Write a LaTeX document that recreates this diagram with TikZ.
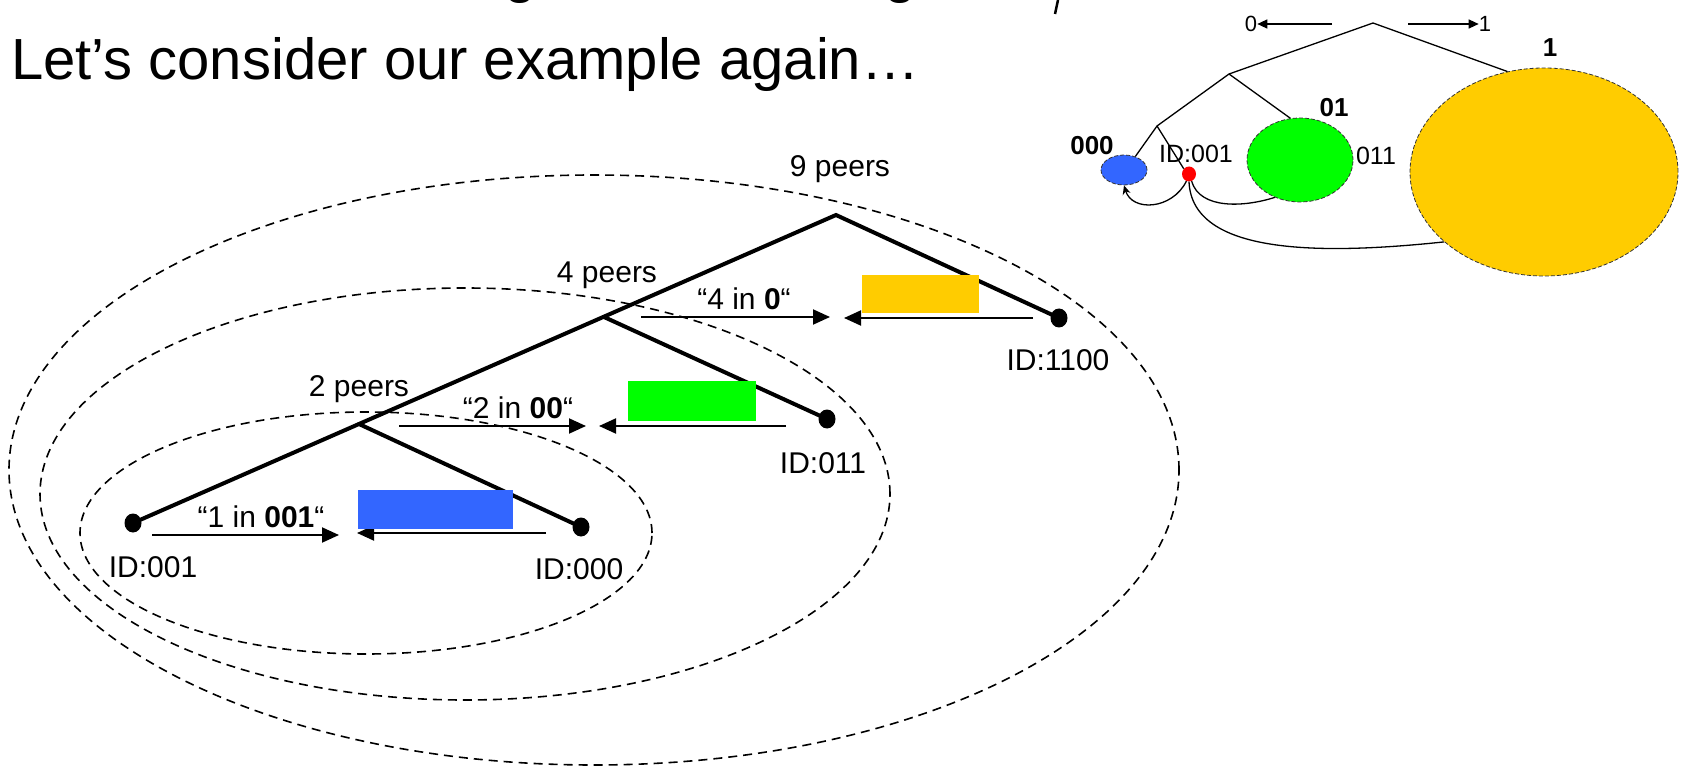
\documentclass[tikz,border=0pt]{standalone}
\usepackage{fontspec}
\setmainfont{Liberation Sans}
\usetikzlibrary{arrows.meta,shapes.geometric}
\definecolor{cblue}{RGB}{51,102,255}
\definecolor{cgreen}{RGB}{0,255,0}
\definecolor{cyellow}{RGB}{255,204,0}
\definecolor{cred}{RGB}{255,0,0}
\begin{document}
\begin{tikzpicture}[x=1pt,y=-1pt,
  tree/.style={line width=4pt, line cap=round, line join=miter},
  msg/.style={line width=2pt, -{Triangle[length=17pt,width=15pt]}},
  dot/.style={ellipse, fill=black, minimum width=17pt, minimum height=19pt, inner sep=0pt},
  ring/.style={line width=1.6pt, dash pattern=on 9pt off 6pt},
  lab/.style={font=\fontsize{30}{32}\selectfont, inner sep=0pt, anchor=base},
  ilab/.style={font=\fontsize{25}{27}\selectfont, inner sep=0pt, anchor=base},
  itree/.style={line width=1.3pt},
  iarr/.style={line width=1.3pt, -{Triangle[length=10pt,width=9pt]}},
  blob/.style={ellipse, inner sep=0pt, draw=black!80, line width=0.8pt, dash pattern=on 4pt off 2pt}
]
\fill[white] (0,0) rectangle (1684,767);
\useasboundingbox (0,0) rectangle (1684,767);

% cut-off line above the title
\node[font=\fontsize{58}{60}\selectfont, inner sep=0pt, anchor=base] (fragA) at (521,-8) {g};
\node[font=\fontsize{58}{60}\selectfont, inner sep=0pt, anchor=base] (fragB) at (901,-8) {g};
\draw[line width=2.5pt] (1058,0) -- (1055,14);

% title
\node[font=\fontsize{58}{62}\selectfont, inner sep=0pt, anchor=base west] (title) at (11,80) {Let’s consider our example again…};

% dashed regions
\draw[ring] (594,470) ellipse [x radius=585pt, y radius=295pt];
\draw[ring] (465,494) ellipse [x radius=425pt, y radius=206pt];
\draw[ring] (366,533) ellipse [x radius=286pt, y radius=121pt];

% tree
\coordinate (root) at (836,215);
\coordinate (j4) at (604,317);
\coordinate (j2) at (359,424);
\node[dot] (d001) at (133,523) {};
\node[dot] (d000) at (581,527) {};
\node[dot] (d011) at (827,419) {};
\node[dot] (d1100) at (1059,318) {};
\draw[tree] (d1100.center) -- (root) -- (d001.center);
\draw[tree] (j4) -- (d011.center);
\draw[tree] (j2) -- (d000.center);

% messages
\coordinate (a4s) at (641,317); \coordinate (a4e) at (830,317);
\coordinate (b4s) at (1033,318); \coordinate (b4e) at (844,318);
\coordinate (a2s) at (399,426); \coordinate (a2e) at (586,426);
\coordinate (b2s) at (786,426); \coordinate (b2e) at (599,426);
\coordinate (a1s) at (152,535); \coordinate (a1e) at (339,535);
\coordinate (b1s) at (546,533); \coordinate (b1e) at (357,533);
\draw[msg] (a4s) -- (a4e);
\draw[msg] (b4s) -- (b4e);
\draw[msg] (a2s) -- (a2e);
\draw[msg] (b2s) -- (b2e);
\draw[msg] (a1s) -- (a1e);
\draw[msg] (b1s) -- (b1e);

% colour boxes
\fill[cyellow] (862,275) rectangle (979,313);
\fill[cgreen] (628,381) rectangle (756,421);
\fill[cblue] (358,490) rectangle (513,529);

% labels
\node[lab] (l9) at (840,177) {9 peers};
\node[lab] (l4) at (607,283) {4 peers};
\node[lab] (l2) at (359,396) {2 peers};
\node[lab] (m4) at (744,309) {“4 in \textbf{0}“};
\node[lab] (m2) at (518,418) {“2 in \textbf{00}“};
\node[lab] (m1) at (261,527) {“1 in \textbf{001}“};
\node[lab] (i001) at (153,577) {ID:001};
\node[lab] (i000) at (579,579) {ID:000};
\node[lab] (i1100) at (1058,370) {ID:1100};
\node[lab] (i011) at (823,473) {ID:011};

% inset
\node[blob, fill=cyellow, minimum width=268pt, minimum height=208pt] (yel) at (1544,172) {};
\node[blob, fill=cgreen, minimum width=106pt, minimum height=84pt] (grn) at (1300,160) {};
\node[blob, fill=cblue, minimum width=46pt, minimum height=30pt] (blu) at (1124,170) {};
\node[ellipse, fill=cred, inner sep=0pt, minimum width=14pt, minimum height=15pt] (red) at (1189,174) {};
\coordinate (iA) at (1373,23);
\coordinate (iB) at (1229,74);
\coordinate (iC) at (1157,126);
\draw[itree] (yel.110) -- (iA) -- (iB) -- (iC) -- (blu.50);
\draw[itree] (iB) -- (grn.103);
\draw[itree] (iC) -- (red.135);
\node[font=\fontsize{22}{24}\selectfont, inner sep=0pt, anchor=base] (zero) at (1251,32) {0};
\node[font=\fontsize{22}{24}\selectfont, inner sep=0pt, anchor=base] (one) at (1485,32) {1};
\coordinate (zs) at (1332,24);
\coordinate (os) at (1408,24);
\draw[iarr] (zs) -- (zero.east |- zs);
\draw[iarr] (os) -- (one.west |- os);
\node[ilab, font=\fontsize{26}{28}\selectfont\bfseries] (t000) at (1092,155) {000};
\node[ilab] (tid) at (1196,163) {ID:001};
\node[ilab, font=\fontsize{26}{28}\selectfont\bfseries] (t01) at (1334,117) {01};
\node[ilab] (t011) at (1376,165) {011};
\node[ilab, font=\fontsize{26}{28}\selectfont\bfseries] (t1) at (1550,57) {1};
\draw[itree, -{Stealth[length=9pt,width=8pt]}] (red.250) .. controls (1172,210) and (1132,212) .. (blu.south);
\draw[itree] (red.290) .. controls (1200,210) and (1245,207) .. (grn.236);
\draw[itree] (red.270) .. controls (1192,255) and (1320,255) .. (yel.215);
\end{tikzpicture}
\end{document}
